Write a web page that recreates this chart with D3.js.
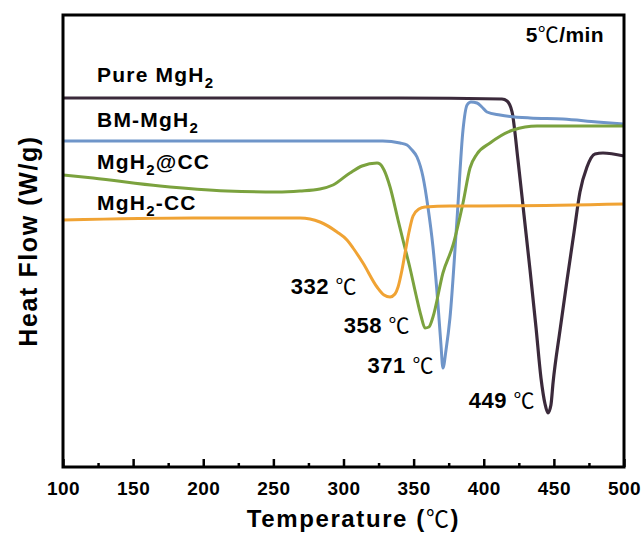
<!DOCTYPE html>
<html>
<head>
<meta charset="utf-8">
<script src="https://cdn.jsdelivr.net/npm/d3@7/dist/d3.min.js"></script>
<style>
  body { margin: 0; background: #fff; }
  text { font-family: "Liberation Sans", Arial, sans-serif; font-weight: bold; }
  .deg { font-family: "Noto Sans CJK SC", "DejaVu Sans", sans-serif; font-weight: normal; }
</style>
</head>
<body>
<div id="chart"></div>
<script>
(function () {

  // temperature (℃) / heat flow (arbitrary offset units)
  const pureTemp = [100, 200, 340, 413, 416.6, 420.2, 424.4, 428.7, 433, 437.3, 440.8, 443.7, 445.8, 447.9, 449.4, 454.4, 459.4, 464.4, 468.6, 473.6, 479.3, 485, 500];
  const pureFlow = [36.9, 36.9, 36.9, 36.8, 36.6, 35.5, 30.7, 25.2, 19.7, 13.9, 8.9, 6.3, 5.4, 6.2, 8.4, 13.7, 18.7, 23.5, 27.5, 30.0, 31.3, 31.4, 31.1];

  const bmTemp = [100, 250, 328, 340.3, 345.3, 348.8, 352.4, 356.7, 360.2, 363.8, 367.4, 369.5, 370.9, 373.1, 375.9, 380.9, 385.2, 388.1, 390.9, 395.2, 398.7, 402.3, 411.6, 433, 456.5, 480.7, 500];
  const bmFlow = [32.6, 32.6, 32.6, 32.4, 32.2, 31.7, 31.0, 29.0, 26.0, 22.0, 16.2, 12.2, 9.9, 11.7, 14.9, 24.7, 33.7, 36.2, 36.5, 36.4, 36.0, 35.5, 35.2, 34.9, 34.8, 34.5, 34.3];

  const atTemp = [100, 121.4, 169.2, 216.9, 252.6, 269, 283.2, 292.5, 304.6, 313.2, 323.9, 326, 328.9, 333.2, 338.9, 343.1, 347.4, 351.7, 355.3, 358.1, 360.9, 363.8, 370.9, 378.1, 385.2, 390.2, 395.2, 404.5, 420.9, 438, 500];
  const atFlow = [29.2, 28.9, 28.1, 27.6, 27.5, 27.6, 27.8, 28.2, 29.4, 30.1, 30.4, 30.3, 29.7, 28.0, 24.7, 22.3, 19.9, 17.2, 15.1, 13.9, 14.0, 15.0, 19.4, 22.2, 26.4, 29.9, 31.3, 32.4, 33.7, 34.1, 34.1];

  const ccTemp = [100, 192.7, 269, 283.2, 295.4, 302.5, 306.8, 313.9, 323.9, 328.9, 333.2, 336.7, 338.9, 341.7, 343.9, 346.7, 349.6, 353.8, 358.1, 375.9, 397.3, 500];
  const ccFlow = [24.7, 24.9, 24.9, 24.5, 23.5, 22.7, 21.9, 20.4, 18.0, 17.2, 17.0, 17.3, 18.0, 19.7, 21.4, 23.5, 25.1, 25.8, 26.0, 26.1, 26.1, 26.3];

  const seriesNames = ['Pure MgH', 'BM-MgH', 'MgH', 'MgH'];
  const seriesTails = ['', '', '@CC', '-CC'];
  const seriesColors = ['#3b2a3b', '#6f95c9', '#7ba23e', '#f0a334'];
  const peakLabels = ['449', '371', '358', '332'];

  const xTicks = [100, 150, 200, 250, 300, 350, 400, 450, 500];
  const xMinor = [125, 175, 225, 275, 325, 375, 425, 475];

  const width = 641,
    height = 536,
    margin = { top: 15, right: 17, bottom: 69, left: 63 },
    chartWidth = width - margin.left - margin.right,
    chartHeight = height - margin.top - margin.bottom;

  const series = [
    { temp: pureTemp, flow: pureFlow },
    { temp: bmTemp, flow: bmFlow },
    { temp: atTemp, flow: atFlow },
    { temp: ccTemp, flow: ccFlow }
  ].map((s, i) => ({
    name: seriesNames[i],
    tail: seriesTails[i],
    color: seriesColors[i],
    peak: peakLabels[i],
    points: s.temp.map((t, j) => ({ t, v: s.flow[j] }))
  }));

  // label placement (pixels): legend baseline offset above curve start, peak label offsets
  const nameDy = [-16, -14, -6, -10];
  const peakDx = [-13, -9, -15, -33];
  const peakDy = [-5, 5, 5, -3];

  const x = d3.scaleLinear().domain([100, 500]).range([0, chartWidth]);
  const y = d3.scaleLinear().domain([0, 45.2]).range([chartHeight, 0]);

  const svg = d3.select('#chart')
    .append('svg')
    .attr('width', width)
    .attr('height', height);

  const chart = svg.append('g')
    .attr('transform', `translate(${margin.left}, ${margin.top})`);

  const line = d3.line()
    .x(d => x(d.t))
    .y(d => y(d.v))
    .curve(d3.curveMonotoneX);

  chart.selectAll('.curve')
    .data(series)
    .enter()
    .append('path')
    .attr('class', 'curve')
    .attr('fill', 'none')
    .attr('stroke', d => d.color)
    .attr('stroke-width', (d, i) => i === 0 ? 3.2 : 3)
    .attr('stroke-linejoin', 'round')
    .attr('d', d => line(d.points));

  // series names
  const names = chart.selectAll('.name')
    .data(series)
    .enter()
    .append('text')
    .attr('class', 'name')
    .attr('x', x(125) - 1)
    .attr('y', (d, i) => y(d.points[0].v) + nameDy[i])
    .attr('font-size', 21)
    .attr('letter-spacing', 1.2)
    .attr('fill', '#000');
  names.append('tspan').text(d => d.name);
  names.append('tspan').attr('font-size', 15).attr('dy', 6).text('2');
  names.append('tspan').attr('dy', -6).text(d => d.tail);

  // peak labels
  const peaks = chart.selectAll('.peak')
    .data(series)
    .enter()
    .append('text')
    .attr('class', 'peak')
    .attr('text-anchor', 'end')
    .attr('font-size', 22)
    .attr('letter-spacing', 0.5)
    .attr('fill', '#000')
    .attr('x', (d, i) => {
      const m = d3.least(d.points, p => p.v);
      return x(m.t) + peakDx[i];
    })
    .attr('y', (d, i) => {
      const m = d3.least(d.points, p => p.v);
      return y(m.v) + peakDy[i];
    });
  peaks.append('tspan').text(d => d.peak + ' ');
  peaks.append('tspan').attr('class', 'deg').attr('font-size', 21).text('℃');

  // rate note
  const rate = chart.append('text')
    .attr('x', chartWidth - 20)
    .attr('y', 27)
    .attr('text-anchor', 'end')
    .attr('font-size', 21)
    .attr('letter-spacing', 0.4)
    .attr('fill', '#000');
  rate.append('tspan').text('5');
  rate.append('tspan').attr('class', 'deg').attr('font-size', 21).text('℃');
  rate.append('tspan').text('/min');

  // x axis, ticks pointing inward
  const xAxis = d3.axisBottom(x)
    .tickValues(xTicks)
    .tickSize(-8)
    .tickPadding(15)
    .tickFormat(d3.format('d'));

  const gx = chart.append('g')
    .attr('class', 'x axis')
    .attr('transform', `translate(0, ${chartHeight})`)
    .call(xAxis);
  gx.select('.domain').remove();
  gx.selectAll('line').attr('stroke', '#000').attr('stroke-width', 2.5);
  gx.selectAll('text')
    .attr('font-size', 19)
    .attr('letter-spacing', 0.5)
    .attr('fill', '#000');

  const gm = chart.append('g')
    .attr('transform', `translate(0, ${chartHeight})`)
    .call(d3.axisBottom(x).tickValues(xMinor).tickSize(-4).tickFormat(''));
  gm.select('.domain').remove();
  gm.selectAll('line').attr('stroke', '#000').attr('stroke-width', 2.5);

  // frame
  chart.append('rect')
    .attr('width', chartWidth)
    .attr('height', chartHeight)
    .attr('fill', 'none')
    .attr('stroke', '#000')
    .attr('stroke-width', 3);

  // axis titles
  const xt = svg.append('text')
    .attr('x', margin.left + chartWidth / 2 + 10)
    .attr('y', 527)
    .attr('text-anchor', 'middle')
    .attr('font-size', 24)
    .attr('letter-spacing', 1.6)
    .attr('fill', '#000');
  xt.append('tspan').text('Temperature (');
  xt.append('tspan').attr('class', 'deg').attr('font-size', 23).text('℃');
  xt.append('tspan').text(')');

  svg.append('text')
    .attr('transform', `translate(37, ${margin.top + chartHeight / 2}) rotate(-90)`)
    .attr('text-anchor', 'middle')
    .attr('font-size', 25)
    .attr('letter-spacing', 1.6)
    .attr('fill', '#000')
    .text('Heat Flow (W/g)');

})();
</script>
</body>
</html>
